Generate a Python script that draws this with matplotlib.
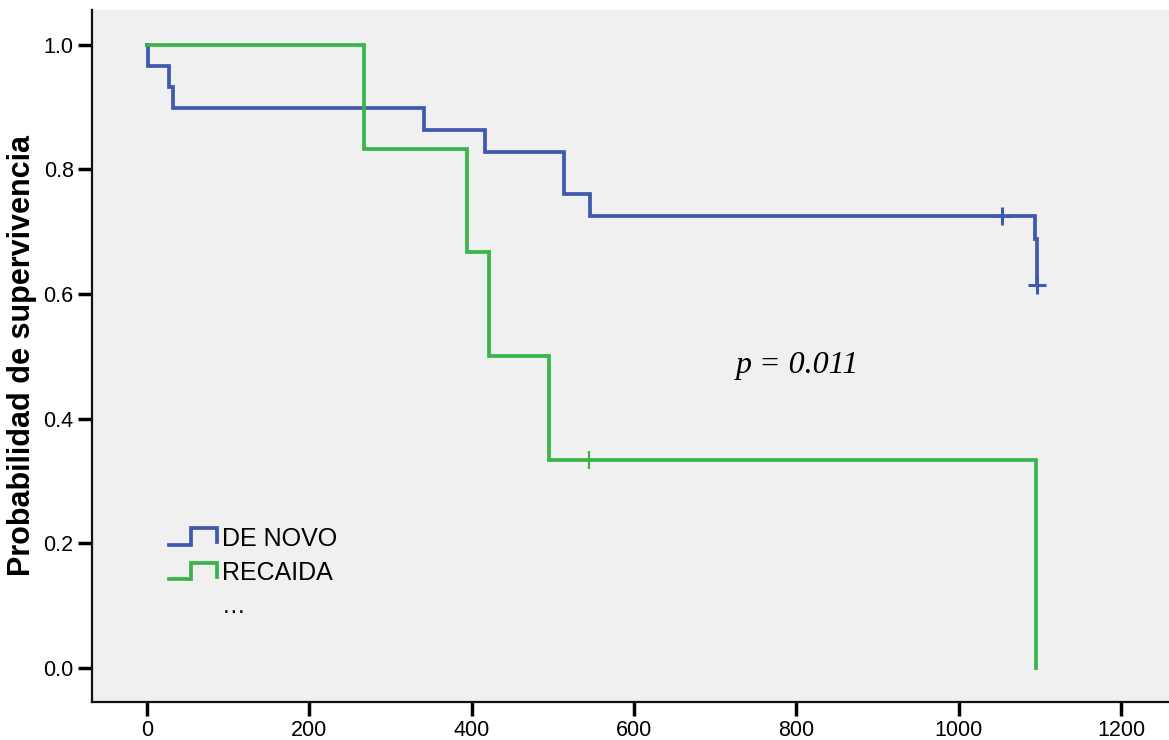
import matplotlib
matplotlib.use("Agg")
import matplotlib.pyplot as plt
from matplotlib.lines import Line2D
from matplotlib.legend_handler import HandlerBase

# --- datos (Kaplan-Meier) ---
denovo_times = [0, 1, 27, 32, 342, 417, 514, 546, 1094, 1096]
denovo_surv = [1.0, 0.966, 0.933, 0.899, 0.864, 0.828, 0.761, 0.725, 0.688, 0.615]
denovo_cens_t = [1053, 1096]
denovo_cens_s = [0.725, 0.615]

recaida_times = [0, 267, 394, 421, 495, 1095]
recaida_surv = [1.0, 0.833, 0.667, 0.5, 0.333, 0.0]
recaida_cens_t = [545]
recaida_cens_s = [0.333]

group_labels = ["DE NOVO", "RECAIDA"]
x_ticks = [0, 200, 400, 600, 800, 1000, 1200]
y_ticks = [0.0, 0.2, 0.4, 0.6, 0.8, 1.0]

BLUE = "#3F59AE"
GREEN = "#38B449"

plt.rcParams["font.family"] = ["Liberation Sans", "DejaVu Sans"]


class StepHandler(HandlerBase):
    """Manija de leyenda con forma de escalón (estilo SPSS)."""
    def create_artists(self, legend, orig_handle, xdescent, ydescent,
                       width, height, fontsize, trans):
        xs = [0, 0.47, 0.47, 1.0, 1.0]
        ys = [0.05, 0.05, 1.0, 1.0, 0.2]
        line = Line2D([-xdescent + x * width for x in xs],
                      [-ydescent + y * height for y in ys],
                      color=orig_handle.get_color(),
                      lw=orig_handle.get_linewidth(),
                      solid_joinstyle="miter", transform=trans)
        return [line]


fig = plt.figure(figsize=(11.69, 7.40), dpi=100)
ax = fig.add_axes([0.0785, 0.0514, 0.9215, 0.9351])
ax.set_facecolor("#F0F0F0")

l1, = ax.step(denovo_times, denovo_surv, where="post", color=BLUE, lw=2.7,
              solid_joinstyle="miter")
l2, = ax.step(recaida_times, recaida_surv, where="post", color=GREEN, lw=2.7,
              solid_joinstyle="miter")
ax.plot(denovo_cens_t, denovo_cens_s, ls="none", marker="+", ms=13, mew=2.2, color=BLUE)
ax.plot(recaida_cens_t, recaida_cens_s, ls="none", marker="|", ms=13, mew=1.6, color=GREEN)

ax.set_xlim(-67.7, 1259)
ax.set_ylim(-0.0546, 1.056)
ax.set_xticks(x_ticks)
ax.set_yticks(y_ticks)
ax.set_yticklabels([f"{v:.1f}" for v in y_ticks])
ax.tick_params(direction="out", length=10, width=2.5, labelsize=15.5, pad=3)

for side in ["top", "right"]:
    ax.spines[side].set_visible(False)
for side in ["left", "bottom"]:
    ax.spines[side].set_linewidth(1.6)
    ax.spines[side].set_color("#111111")

ax.set_ylabel("Probabilidad de supervivencia", fontsize=22, fontweight="bold", labelpad=5)

ax.text(725, 0.486, "p = 0.011", fontsize=23, style="italic",
        family=["Liberation Serif", "DejaVu Serif"], va="center")

leg = ax.legend([l1, l2], group_labels, handler_map={Line2D: StepHandler()},
                loc="upper left", bbox_to_anchor=(0.062, 0.268), frameon=False,
                fontsize=18, handlelength=1.95, handletextpad=0.2,
                labelspacing=0.42, borderaxespad=0)
ax.text(93, 0.098, "\u2026", fontsize=17, ha="left", va="center")

fig.savefig("out.png", dpi=100)
